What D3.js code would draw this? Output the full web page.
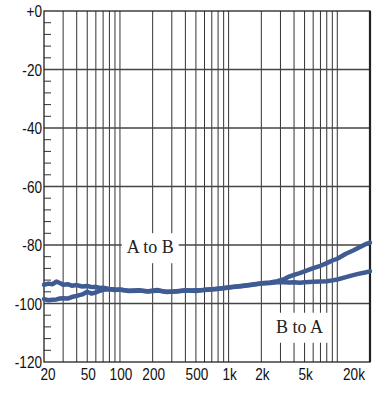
<!DOCTYPE html>
<html>
<head>
<meta charset="utf-8">
<script src="https://cdn.jsdelivr.net/npm/d3@7"></script>
<style>
  body { margin: 0; background: #fff; }
  svg { display: block; }
</style>
</head>
<body>
<div id="chart"></div>
<script>
var freqs = [20, 22, 24, 26, 28, 30, 33, 36, 40, 45, 50, 55, 60, 65, 70, 80, 90, 100, 120, 150,
  180, 220, 270, 330, 400, 500, 600, 750, 900, 1100, 1300, 1600, 2000, 2400, 2800, 3200, 3600,
  4000, 4500, 5000, 6000, 7000, 8000, 9000, 10000, 12000, 14000, 16000, 18000, 20000];

var aToB = [-93.6, -93.2, -93.4, -92.5, -93.0, -93.6, -93.4, -93.9, -93.7, -94.2, -94.0, -94.4,
  -94.3, -94.7, -94.6, -95.0, -95.2, -95.3, -95.6, -95.5, -95.9, -95.4, -96.1, -95.8, -95.5,
  -95.7, -95.3, -95.0, -94.8, -94.3, -94.0, -93.6, -93.1, -92.8, -92.4, -91.8, -90.8, -90.2,
  -89.6, -89.0, -87.9, -87.1, -86.2, -85.3, -84.7, -83.0, -81.9, -80.8, -79.8, -79.2];

var bToA = [-98.5, -98.9, -98.7, -98.6, -98.3, -98.2, -98.3, -97.8, -97.4, -96.9, -96.0, -96.6,
  -96.2, -95.7, -95.3, -95.1, -95.4, -95.2, -95.7, -95.6, -95.8, -95.6, -96.0, -95.9, -95.6,
  -95.5, -95.4, -95.1, -94.7, -94.4, -94.1, -93.7, -93.2, -93.0, -92.7, -92.7, -92.8, -92.7,
  -92.9, -92.7, -92.6, -92.5, -92.4, -92.1, -91.8, -91.0, -90.3, -89.8, -89.4, -89.0];

var yTicks = [0, -20, -40, -60, -80, -100, -120];
var yTickLabels = ["+0", "-20", "-40", "-60", "-80", "-100", "-120"];
var xTicks = [20, 50, 100, 200, 500, 1000, 2000, 5000, 20000];
var xTickLabels = ["20", "50", "100", "200", "500", "1k", "2k", "5k", "20k"];
var gridFreqs = [30, 40, 50, 60, 70, 80, 90, 100, 200, 300, 400, 500, 600, 700, 800, 900,
  1000, 2000, 3000, 4000, 5000, 6000, 7000, 8000, 9000, 10000];

var W = 374, H = 396;
var margin = { top: 11, right: 4, bottom: 34, left: 44 };
var width = W - margin.left - margin.right,
    height = H - margin.top - margin.bottom;

var svg = d3.select('#chart').append('svg')
    .attr('width', W)
    .attr('height', H)
    .append('g')
    .attr('transform', 'translate(' + [margin.left, margin.top] + ')');

var x = d3.scaleLog().domain([20, 20000]).range([0, width]);
var y = d3.scaleLinear().domain([-120, 0]).range([height, 0]);

var sansFont = '"Liberation Sans", Arial, sans-serif';
var squeeze = 0.8; // the original labels are set in a condensed face

// vertical grid
svg.selectAll('.vgrid')
    .data(gridFreqs)
    .enter().append('line')
    .attr('x1', d => x(d)).attr('x2', d => x(d))
    .attr('y1', 0).attr('y2', height)
    .attr('stroke', '#333').attr('stroke-width', 1);

// horizontal grid
svg.selectAll('.hgrid')
    .data(yTicks.slice(1, -1))
    .enter().append('line')
    .attr('x1', 0).attr('x2', width)
    .attr('y1', d => y(d)).attr('y2', d => y(d))
    .attr('stroke', '#444').attr('stroke-width', 1.3);

// minor ticks on left axis, every 4 dB
var minor = d3.range(-116, 0, 4).filter(d => d % 20 !== 0);
svg.selectAll('.minor')
    .data(minor)
    .enter().append('line')
    .attr('x1', 0).attr('x2', 7)
    .attr('y1', d => y(d)).attr('y2', d => y(d))
    .attr('stroke', '#333').attr('stroke-width', 1);

// frame
svg.append('rect')
    .attr('x', 0).attr('y', 0)
    .attr('width', width).attr('height', height)
    .attr('fill', 'none').attr('stroke', '#222').attr('stroke-width', 1.3);
svg.append('line')
    .attr('x1', width).attr('x2', width).attr('y1', 0).attr('y2', height)
    .attr('stroke', '#222').attr('stroke-width', 2.2);

// y labels
svg.selectAll('.ylab')
    .data(yTicks)
    .enter().append('text')
    .attr('transform', d => 'translate(' + [-2, y(d)] + ') scale(' + squeeze + ',1)')
    .attr('dy', '0.36em')
    .attr('text-anchor', 'end')
    .style('font-family', sansFont)
    .style('font-size', '17px')
    .style('fill', '#111')
    .text((d, i) => yTickLabels[i]);

// x labels
svg.selectAll('.xlab')
    .data(xTicks)
    .enter().append('text')
    .attr('transform', (d, i) => 'translate(' +
        [x(d) + (i === 0 ? 4 : (i === xTicks.length - 1 ? -16 : 1)), height + 18] +
        ') scale(' + squeeze + ',1)')
    .attr('text-anchor', 'middle')
    .style('font-family', sansFont)
    .style('font-size', '17px')
    .style('fill', '#111')
    .text((d, i) => xTickLabels[i]);

// annotation labels with white boxes
var notes = [
  { text: 'A to B', f: 190, v: -82.8 },
  { text: 'B to A', f: 4500, v: -110 }
];
notes.forEach(function (n) {
  var g = svg.append('g');
  var r = g.append('rect').attr('fill', '#fff');
  var t = g.append('text')
      .attr('x', x(n.f)).attr('y', y(n.v))
      .attr('text-anchor', 'middle')
      .style('font-family', '"Liberation Serif", "Times New Roman", serif')
      .style('font-size', '18px')
      .style('fill', '#222')
      .text(n.text);
  var b = t.node().getBBox();
  r.attr('x', b.x - 5).attr('y', b.y - 4)
   .attr('width', b.width + 10).attr('height', b.height + 10);
});

// curves
var line = d3.line()
    .x((d, i) => x(freqs[i]))
    .y(d => y(d));

[aToB, bToA].forEach(function (s) {
  svg.append('path')
      .datum(s)
      .attr('d', line)
      .attr('fill', 'none')
      .attr('stroke', '#3f5b94')
      .attr('stroke-width', 4.5)
      .attr('stroke-linejoin', 'round')
      .attr('stroke-linecap', 'round');
});
</script>
</body>
</html>
